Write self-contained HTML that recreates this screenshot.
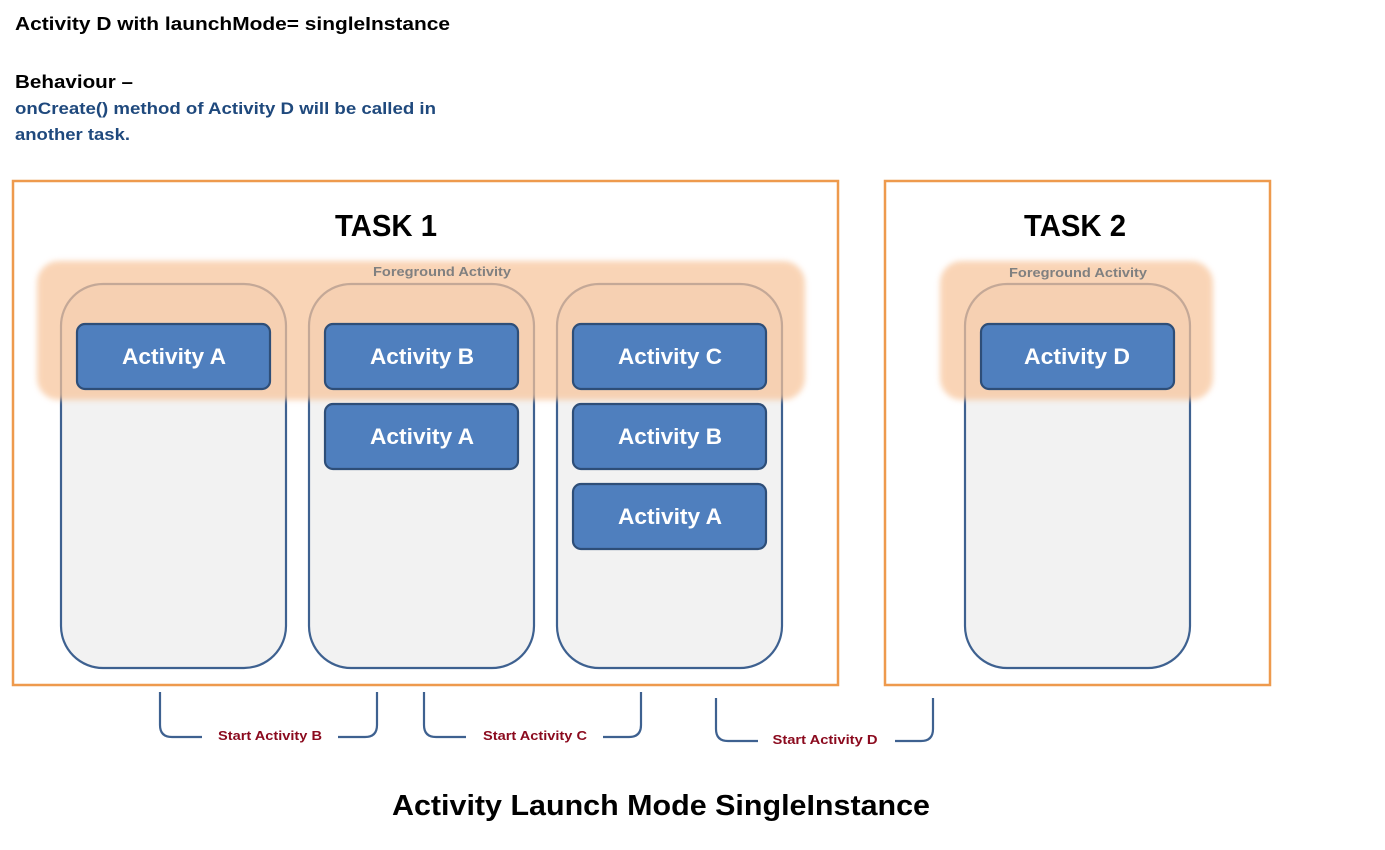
<!DOCTYPE html>
<html><head><meta charset="utf-8"><style>
html,body{margin:0;padding:0;background:#fff;}
svg{display:block;}
text{font-family:"Liberation Sans",sans-serif;font-weight:bold;}
</style></head><body>
<svg width="1385" height="850" viewBox="0 0 1385 850">
<defs>
<filter id="blur" x="-5%" y="-20%" width="110%" height="140%"><feGaussianBlur stdDeviation="3"/></filter>
</defs>
<text x="15" y="30" font-size="18" fill="#000" textLength="435" lengthAdjust="spacingAndGlyphs">Activity D with launchMode= singleInstance</text>
<text x="15" y="88" font-size="18" fill="#000" textLength="118" lengthAdjust="spacingAndGlyphs">Behaviour –</text>
<text x="15" y="114" font-size="16.5" fill="#1F497D" textLength="421" lengthAdjust="spacingAndGlyphs">onCreate() method of Activity D will be called in</text>
<text x="15" y="140" font-size="16.5" fill="#1F497D" textLength="115" lengthAdjust="spacingAndGlyphs">another task.</text>

<rect x="13" y="181" width="825" height="504" fill="#fff" stroke="#EE9A4D" stroke-width="2.5"/>
<rect x="885" y="181" width="385" height="504" fill="#fff" stroke="#EE9A4D" stroke-width="2.5"/>
<text x="386" y="236" font-size="31" fill="#000" text-anchor="middle" textLength="102" lengthAdjust="spacingAndGlyphs">TASK 1</text>
<text x="1075" y="236" font-size="31" fill="#000" text-anchor="middle" textLength="102" lengthAdjust="spacingAndGlyphs">TASK 2</text>

<g fill="#F2F2F2" stroke="#3E6190" stroke-width="2.2">
<rect x="61" y="284" width="225" height="384" rx="42"/>
<rect x="309" y="284" width="225" height="384" rx="42"/>
<rect x="557" y="284" width="225" height="384" rx="42"/>
<rect x="965" y="284" width="225" height="384" rx="42"/>
</g>

<g fill="#F8C49A" opacity="0.72" filter="url(#blur)">
<rect x="37" y="261" width="768" height="139" rx="22"/>
<rect x="940" y="261" width="273" height="139" rx="22"/>
</g>
<text x="442" y="276" font-size="12.5" fill="#808080" text-anchor="middle" textLength="138" lengthAdjust="spacingAndGlyphs">Foreground Activity</text>
<text x="1078" y="277" font-size="12.5" fill="#808080" text-anchor="middle" textLength="138" lengthAdjust="spacingAndGlyphs">Foreground Activity</text>

<g fill="#4F7FBE" stroke="#2E4E78" stroke-width="2.2">
<rect x="77" y="324" width="193" height="65" rx="8"/>
<rect x="325" y="324" width="193" height="65" rx="8"/>
<rect x="325" y="404" width="193" height="65" rx="8"/>
<rect x="573" y="324" width="193" height="65" rx="8"/>
<rect x="573" y="404" width="193" height="65" rx="8"/>
<rect x="573" y="484" width="193" height="65" rx="8"/>
<rect x="981" y="324" width="193" height="65" rx="8"/>
</g>
<g font-size="22" fill="#fff" text-anchor="middle">
<text x="174" y="364" textLength="104" lengthAdjust="spacingAndGlyphs">Activity A</text>
<text x="422" y="364" textLength="104" lengthAdjust="spacingAndGlyphs">Activity B</text>
<text x="422" y="444" textLength="104" lengthAdjust="spacingAndGlyphs">Activity A</text>
<text x="670" y="364" textLength="104" lengthAdjust="spacingAndGlyphs">Activity C</text>
<text x="670" y="444" textLength="104" lengthAdjust="spacingAndGlyphs">Activity B</text>
<text x="670" y="524" textLength="104" lengthAdjust="spacingAndGlyphs">Activity A</text>
<text x="1077" y="364" textLength="106" lengthAdjust="spacingAndGlyphs">Activity D</text>
</g>

<g fill="none" stroke="#3E6190" stroke-width="2.2">
<path d="M160 692 V725 Q160 737 172 737 H202"/>
<path d="M338 737 H365 Q377 737 377 725 V692"/>
<path d="M424 692 V725 Q424 737 436 737 H466"/>
<path d="M603 737 H629 Q641 737 641 725 V692"/>
<path d="M716 698 V729 Q716 741 728 741 H758"/>
<path d="M895 741 H921 Q933 741 933 729 V698"/>
</g>
<g font-size="12.5" fill="#8B0A1E" text-anchor="middle">
<text x="270" y="740" textLength="104" lengthAdjust="spacingAndGlyphs">Start Activity B</text>
<text x="535" y="740" textLength="104" lengthAdjust="spacingAndGlyphs">Start Activity C</text>
<text x="825" y="744" textLength="105" lengthAdjust="spacingAndGlyphs">Start Activity D</text>
</g>

<text x="661" y="815" font-size="29" fill="#000" text-anchor="middle" textLength="538" lengthAdjust="spacingAndGlyphs">Activity Launch Mode SingleInstance</text>
</svg>
</body></html>
